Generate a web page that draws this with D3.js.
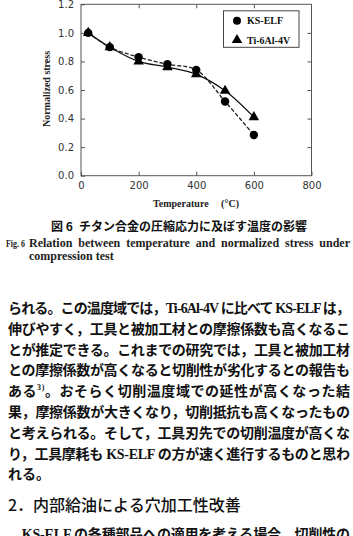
<!DOCTYPE html>
<html><head><meta charset="utf-8">
<script src="https://cdn.jsdelivr.net/npm/d3@7"></script>
<style>
html,body{margin:0;padding:0;background:#fff;}
svg{display:block;}
</style></head>
<body>
<svg id="c" width="353" height="536"></svg>
<script>
// ---- data ----
const temps = [25, 100, 200, 300, 400, 500, 600];
const ksElf = [1.0, 0.90, 0.83, 0.78, 0.74, 0.52, 0.285];
const ti64 = [1.0, 0.90, 0.80, 0.76, 0.71, 0.595, 0.41];
const seriesNames = ["KS-ELF", "Ti-6Al-4V"];
const xTicks = [0, 200, 400, 600, 800];
const yTicks = [0.0, 0.2, 0.4, 0.6, 0.8, 1.0, 1.2];
const xLabel = "Temperature\u2003\u00A0(\u00B0C)";
const yLabel = "Normalized stress";
const captionJa = "図 6\u2002チタン合金の圧縮応力に及ぼす温度の影響";
const captionFig = "Fig. 6";
const captionEn1 = "Relation between temperature and normalized stress under";
const captionEn2 = "compression test";
const bodyLines = [
  "られる。この温度域では，Ti-6Al-4V に比べて KS-ELF は，",
  "伸びやすく，工具と被加工材との摩擦係数も高くなるこ",
  "とが推定できる。これまでの研究では，工具と被加工材",
  "との摩擦係数が高くなると切削性が劣化するとの報告も",
  "ある@。おそらく切削温度域での延性が高くなった結",
  "果，摩擦係数が大きくなり，切削抵抗も高くなったもの",
  "と考えられる。そして，工具刃先での切削温度が高くな",
  "り，工具摩耗も KS-ELF の方が速く進行するものと思わ",
  "れる。"
];
const heading = "2．内部給油による穴加工性改善";
const lastLine = "\u3000KS-ELF の各種部品への適用を考える場合，切削性の";

const svg = d3.select("#c");
const x = d3.scaleLinear().domain([0, 800]).range([81, 311.5]);
const y = d3.scaleLinear().domain([0, 1.2]).range([175.7, 4.3]);
const frameColor = "#555";

// frame
svg.append("rect").attr("x", 81).attr("y", 4.3).attr("width", 230.5).attr("height", 171.4)
  .attr("fill", "none").attr("stroke", frameColor).attr("stroke-width", 1);

const tickFont = "'DejaVu Sans', sans-serif";
function styleAxis(g) {
  g.select(".domain").remove();
  g.selectAll(".tick line").attr("stroke", frameColor);
  g.selectAll(".tick text").attr("fill", "#333").style("font-family", tickFont).style("font-size", "10px");
}
svg.append("g").attr("transform", "translate(81,0)")
  .call(d3.axisLeft(y).tickValues(yTicks).tickFormat(d3.format(".1f")).tickSizeInner(-4).tickSizeOuter(0).tickPadding(7))
  .call(styleAxis);
svg.append("g").attr("transform", "translate(311.5,0)")
  .call(d3.axisRight(y).tickValues(yTicks.slice(1, -1)).tickFormat("").tickSizeInner(-4).tickSizeOuter(0))
  .call(styleAxis);
svg.append("g").attr("transform", "translate(0,175.7)")
  .call(d3.axisBottom(x).tickValues(xTicks).tickFormat(d3.format("d")).tickSizeInner(-4).tickSizeOuter(0).tickPadding(6))
  .call(styleAxis);
svg.append("g").attr("transform", "translate(0,4.3)")
  .call(d3.axisTop(x).tickValues(xTicks.slice(1, -1)).tickFormat("").tickSizeInner(-4).tickSizeOuter(0))
  .call(styleAxis);

// axis labels
const serifBold = "'Liberation Serif', 'Times New Roman', serif";
svg.append("text").attr("x", 196).attr("y", 206.5).attr("text-anchor", "middle")
  .style("font-family", serifBold).style("font-weight", "bold").style("font-size", "10px").attr("fill", "#222")
  .text(xLabel);
svg.append("text").attr("transform", "translate(49.5,89) rotate(-90)").attr("text-anchor", "middle")
  .style("font-family", serifBold).style("font-weight", "bold").style("font-size", "10px").attr("fill", "#222")
  .text(yLabel);

// lines
const ksData = temps.map((t, i) => ({ t, v: ksElf[i] }));
const tiData = temps.map((t, i) => ({ t, v: ti64[i] }));
const line = d3.line().x(d => x(d.t)).y(d => y(d.v)).curve(d3.curveCatmullRom.alpha(0.5));
svg.append("path").datum(tiData).attr("d", line).attr("fill", "none").attr("stroke", "#111").attr("stroke-width", 1.3);
svg.append("path").datum(ksData).attr("d", line).attr("fill", "none").attr("stroke", "#222").attr("stroke-width", 1.3)
  .attr("stroke-dasharray", "4,2");

const tri = d3.symbol().type(d3.symbolTriangle).size(48);
svg.append("g").selectAll("path").data(tiData).join("path")
  .attr("d", tri).attr("transform", d => `translate(${x(d.t)},${y(d.v)})`).attr("fill", "#000");
svg.append("g").selectAll("circle").data(ksData).join("circle")
  .attr("cx", d => x(d.t)).attr("cy", d => y(d.v)).attr("r", 4.2).attr("fill", "#000");

// legend
const lg = svg.append("g");
lg.append("rect").attr("x", 223.5).attr("y", 10.8).attr("width", 75.5).attr("height", 36.5)
  .attr("fill", "#fff").attr("stroke", "#444").attr("stroke-width", 1);
lg.append("circle").attr("cx", 237).attr("cy", 20.8).attr("r", 4).attr("fill", "#000");
lg.append("path").attr("d", tri).attr("transform", "translate(237,40)").attr("fill", "#000");
lg.selectAll("text.l").data(seriesNames).join("text").attr("class", "l")
  .attr("x", 247).attr("y", (d, i) => 24.3 + i * 19.2)
  .style("font-family", serifBold).style("font-weight", "bold").style("font-size", "10px").attr("fill", "#111")
  .text(d => d);

// caption
const cjk = "'Noto Sans CJK JP', sans-serif";
svg.append("text").attr("x", 179).attr("y", 230.5).attr("text-anchor", "middle")
  .style("font-family", cjk).style("font-weight", "bold").style("font-size", "12px").attr("fill", "#111")
  .text(captionJa);
svg.append("text").attr("x", 6).attr("y", 246.5).attr("textLength", 19).attr("lengthAdjust", "spacingAndGlyphs")
  .style("font-family", serifBold).style("font-weight", "bold").style("font-size", "10.5px").attr("fill", "#222")
  .text(captionFig);
const en1 = svg.append("text").attr("x", 29).attr("y", 246.5)
  .style("font-family", serifBold).style("font-weight", "bold").style("font-size", "12px").attr("fill", "#222")
  .text(captionEn1);
{
  const w = en1.node().getComputedTextLength();
  const nSp = captionEn1.split(" ").length - 1;
  en1.style("word-spacing", Math.max(0, (321 - w) / nSp) + "px");
}
svg.append("text").attr("x", 29).attr("y", 259.5)
  .style("font-family", serifBold).style("font-weight", "bold").style("font-size", "12px").attr("fill", "#222")
  .text(captionEn2);

// body text
const bodyFont = "'Liberation Serif', 'Noto Sans CJK JP', serif";
const top0 = 313, lh = 20.8;
bodyLines.forEach((s, i) => {
  const t = svg.append("text").attr("x", 8).attr("y", top0 + i * lh)
    .style("font-family", bodyFont).style("font-weight", "bold").style("font-size", "14px").attr("fill", "#111");
  if (i < bodyLines.length - 1) t.attr("textLength", 342).attr("lengthAdjust", "spacing");
  if (s.includes("@")) {
    const [a, b] = s.split("@");
    t.append("tspan").text(a);
    t.append("tspan").attr("dy", -6).style("font-size", "8px").text("3)");
    t.append("tspan").attr("dy", 6).text(b);
  } else t.text(s);
});
svg.append("text").attr("x", 8).attr("y", 510.5)
  .style("font-family", cjk).style("font-weight", "500").style("font-size", "16px").attr("fill", "#111")
  .text(heading);
svg.append("text").attr("x", 8).attr("y", 539).attr("textLength", 342).attr("lengthAdjust", "spacing")
  .style("font-family", bodyFont).style("font-weight", "bold").style("font-size", "14px").attr("fill", "#111")
  .text(lastLine);
</script>
</body></html>
